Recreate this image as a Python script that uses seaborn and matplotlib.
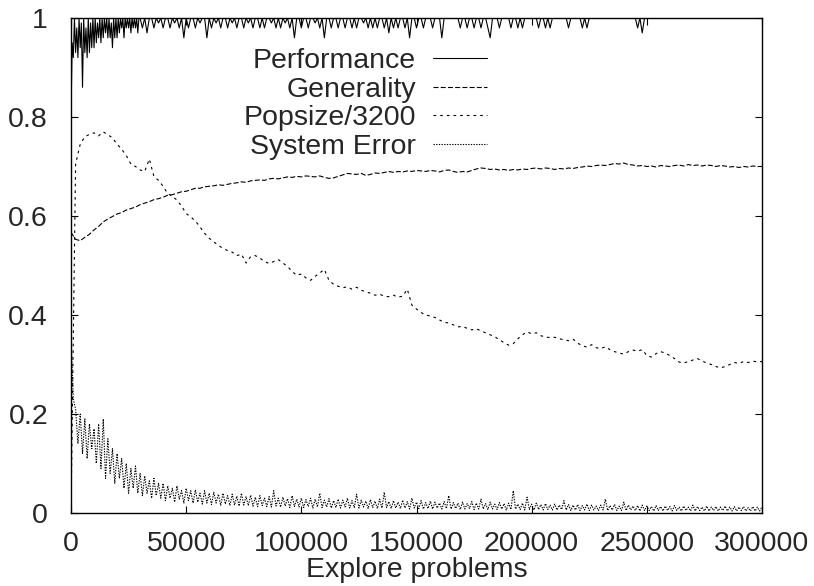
import numpy as np
import pandas as pd
import matplotlib
matplotlib.use("Agg")
import matplotlib.pyplot as plt
import seaborn as sns

# x grids (explore problems)
explore_fine = np.arange(0, 300001, 1000)
explore_coarse = np.arange(0, 300001, 2000)
explore_perf = np.concatenate([np.arange(0, 30000, 500),
                               np.arange(30000, 300001, 1000)])

# performance: every 500 problems up to 30000, then every 1000
performance = [
    0.80, 0.95, 0.92, 1.0, 0.93, 0.98, 0.92, 1.0, 0.94, 0.99,
    0.86, 1.0, 0.93, 0.98, 0.92, 1.0, 0.93, 0.99, 0.94, 1.0,
    0.94, 1.0, 0.95, 0.99, 0.96, 1.0, 0.95, 1.0, 0.96, 1.0,
    0.97, 1.0, 0.96, 1.0, 0.96, 0.99, 0.94, 1.0, 0.96, 1.0,
    0.96, 1.0, 0.97, 1.0, 0.98, 1.0, 0.96, 1.0, 0.98, 1.0,
    0.98, 1.0, 0.97, 1.0, 0.98, 1.0, 0.98, 1.0, 0.97, 1.0,
    1.0, 0.98, 1.0, 0.97, 1.0, 1.0, 0.98, 1.0, 0.99, 1.0,
    0.98, 1.0, 1.0, 0.98, 1.0, 0.99, 1.0, 0.98, 1.0, 0.96,
    1.0, 0.98, 1.0, 1.0, 0.98, 1.0, 0.99, 1.0, 1.0, 0.96,
    1.0, 0.98, 1.0, 0.99, 1.0, 0.98, 1.0, 1.0, 0.98, 1.0,
    0.99, 1.0, 0.98, 1.0, 1.0, 0.98, 1.0, 0.99, 1.0, 0.98,
    1.0, 1.0, 0.98, 1.0, 0.98, 1.0, 1.0, 0.99, 1.0, 0.98,
    1.0, 0.98, 1.0, 0.99, 1.0, 0.98, 1.0, 0.96, 1.0, 1.0,
    0.98, 1.0, 1.0, 0.98, 1.0, 1.0, 0.99, 1.0, 0.98, 1.0,
    0.96, 1.0, 1.0, 0.98, 1.0, 1.0, 0.98, 1.0, 1.0, 0.98,
    1.0, 1.0, 0.98, 1.0, 0.98, 1.0, 1.0, 0.99, 1.0, 0.98,
    1.0, 0.98, 1.0, 0.98, 1.0, 1.0, 0.98, 1.0, 0.97, 1.0,
    0.98, 1.0, 0.98, 1.0, 1.0, 0.98, 1.0, 0.96, 1.0, 1.0,
    0.98, 1.0, 1.0, 0.98, 1.0, 1.0, 1.0, 0.98, 1.0, 1.0,
    1.0, 0.96, 1.0, 1.0, 1.0, 1.0, 1.0, 1.0, 1.0, 0.98,
    1.0, 1.0, 0.98, 1.0, 1.0, 0.98, 1.0, 1.0, 0.98, 1.0,
    1.0, 0.98, 0.96, 1.0, 1.0, 1.0, 0.98, 1.0, 1.0, 1.0,
    1.0, 0.98, 1.0, 1.0, 0.98, 1.0, 0.98, 1.0, 1.0, 1.0,
    1.0, 1.0, 1.0, 0.98, 1.0, 1.0, 0.98, 1.0, 0.98, 1.0,
    1.0, 1.0, 1.0, 1.0, 1.0, 1.0, 0.98, 1.0, 1.0, 1.0,
    1.0, 1.0, 0.98, 1.0, 0.98, 1.0, 1.0, 1.0, 1.0, 1.0,
    1.0, 1.0, 1.0, 1.0, 1.0, 1.0, 1.0, 1.0, 1.0, 1.0,
    1.0, 1.0, 1.0, 1.0, 1.0, 1.0, 0.98, 1.0, 0.97, 1.0,
    1.0, 1.0, 1.0, 1.0, 1.0, 1.0, 1.0, 1.0, 1.0, 1.0,
    1.0, 1.0, 1.0, 1.0, 1.0, 1.0, 1.0, 1.0, 1.0, 1.0,
    1.0, 1.0, 1.0, 1.0, 1.0, 1.0, 1.0, 1.0, 1.0, 1.0,
    1.0, 1.0, 1.0, 1.0, 1.0, 1.0, 1.0, 1.0, 1.0, 1.0,
    1.0, 1.0, 1.0, 1.0, 1.0, 1.0, 1.0, 1.0, 1.0, 1.0,
    1.0,
]

# generality, one value every 2000 problems
generality = [
    0.567, 0.553, 0.550, 0.557, 0.563, 0.572, 0.579, 0.588, 0.594, 0.599,
    0.604, 0.607, 0.612, 0.615, 0.618, 0.623, 0.626, 0.629, 0.633, 0.635,
    0.638, 0.642, 0.643, 0.646, 0.649, 0.650, 0.653, 0.656, 0.656, 0.659,
    0.660, 0.661, 0.663, 0.662, 0.664, 0.666, 0.667, 0.669, 0.668, 0.671,
    0.672, 0.673, 0.672, 0.675, 0.676, 0.675, 0.677, 0.679, 0.678, 0.680,
    0.679, 0.681, 0.680, 0.679, 0.681, 0.678, 0.676, 0.677, 0.680, 0.683,
    0.686, 0.685, 0.684, 0.686, 0.682, 0.684, 0.687, 0.686, 0.688, 0.690,
    0.688, 0.690, 0.689, 0.691, 0.690, 0.692, 0.691, 0.690, 0.692, 0.691,
    0.689, 0.692, 0.693, 0.690, 0.688, 0.690, 0.689, 0.692, 0.695, 0.697,
    0.696, 0.694, 0.695, 0.693, 0.694, 0.692, 0.694, 0.693, 0.695, 0.694,
    0.696, 0.697, 0.695, 0.697, 0.696, 0.694, 0.696, 0.695, 0.697, 0.696,
    0.698, 0.699, 0.701, 0.700, 0.702, 0.703, 0.702, 0.704, 0.706, 0.705,
    0.707, 0.704, 0.703, 0.701, 0.702, 0.700, 0.701, 0.699, 0.702, 0.701,
    0.700, 0.702, 0.703, 0.701, 0.704, 0.702, 0.703, 0.701, 0.703, 0.702,
    0.700, 0.702, 0.701, 0.699, 0.700, 0.698, 0.700, 0.699, 0.701, 0.700,
    0.700,
]

# population size / 3200, one value every 2000 problems
popsize = [
    0.000, 0.705, 0.745, 0.760, 0.765, 0.768, 0.762, 0.770, 0.764, 0.758,
    0.745, 0.735, 0.722, 0.705, 0.700, 0.693, 0.690, 0.715, 0.680, 0.672,
    0.660, 0.645, 0.640, 0.632, 0.620, 0.605, 0.598, 0.590, 0.578, 0.565,
    0.555, 0.548, 0.540, 0.535, 0.530, 0.527, 0.520, 0.523, 0.505, 0.518,
    0.520, 0.515, 0.508, 0.504, 0.508, 0.512, 0.505, 0.498, 0.488, 0.480,
    0.483, 0.475, 0.470, 0.478, 0.485, 0.492, 0.470, 0.462, 0.458, 0.455,
    0.457, 0.452, 0.456, 0.450, 0.447, 0.444, 0.440, 0.442, 0.438, 0.437,
    0.440, 0.436, 0.438, 0.452, 0.420, 0.412, 0.405, 0.400, 0.398, 0.395,
    0.390, 0.385, 0.384, 0.380, 0.376, 0.377, 0.373, 0.370, 0.372, 0.368,
    0.364, 0.360, 0.356, 0.350, 0.344, 0.339, 0.342, 0.352, 0.360, 0.366,
    0.362, 0.364, 0.358, 0.356, 0.354, 0.355, 0.352, 0.350, 0.348, 0.351,
    0.343, 0.338, 0.335, 0.340, 0.334, 0.332, 0.336, 0.330, 0.326, 0.323,
    0.321, 0.326, 0.329, 0.327, 0.330, 0.318, 0.315, 0.322, 0.326, 0.323,
    0.318, 0.312, 0.305, 0.303, 0.306, 0.309, 0.312, 0.307, 0.303, 0.300,
    0.296, 0.293, 0.296, 0.300, 0.304, 0.302, 0.306, 0.304, 0.307, 0.305,
    0.306,
]

# system error, one value every 1000 problems
system_error = [
    0.36, 0.23, 0.21, 0.14, 0.20, 0.12, 0.19, 0.11, 0.18, 0.13,
    0.17, 0.10, 0.18, 0.09, 0.19, 0.07, 0.15, 0.08, 0.13, 0.06,
    0.12, 0.07, 0.11, 0.05, 0.10, 0.04, 0.09, 0.05, 0.095, 0.04,
    0.08, 0.035, 0.075, 0.04, 0.065, 0.03, 0.07, 0.035, 0.06, 0.03,
    0.06, 0.025, 0.055, 0.03, 0.05, 0.022, 0.055, 0.028, 0.045, 0.02,
    0.05, 0.025, 0.045, 0.02, 0.047, 0.022, 0.04, 0.018, 0.045, 0.02,
    0.04, 0.017, 0.042, 0.02, 0.038, 0.015, 0.04, 0.018, 0.035, 0.015,
    0.038, 0.016, 0.034, 0.014, 0.04, 0.016, 0.033, 0.015, 0.036, 0.014,
    0.032, 0.013, 0.035, 0.015, 0.03, 0.013, 0.033, 0.012, 0.045, 0.014,
    0.03, 0.012, 0.032, 0.014, 0.029, 0.011, 0.035, 0.013, 0.028, 0.012,
    0.03, 0.011, 0.027, 0.013, 0.03, 0.01, 0.028, 0.012, 0.04, 0.011,
    0.026, 0.012, 0.029, 0.01, 0.025, 0.011, 0.028, 0.01, 0.026, 0.012,
    0.03, 0.01, 0.025, 0.011, 0.038, 0.01, 0.026, 0.012, 0.024, 0.009,
    0.027, 0.011, 0.024, 0.009, 0.028, 0.01, 0.042, 0.011, 0.023, 0.009,
    0.025, 0.01, 0.022, 0.009, 0.026, 0.01, 0.023, 0.008, 0.03, 0.01,
    0.022, 0.009, 0.025, 0.008, 0.021, 0.009, 0.024, 0.008, 0.022, 0.01,
    0.02, 0.008, 0.023, 0.009, 0.035, 0.008, 0.021, 0.009, 0.02, 0.007,
    0.022, 0.008, 0.019, 0.009, 0.023, 0.007, 0.02, 0.008, 0.028, 0.008,
    0.019, 0.007, 0.022, 0.008, 0.018, 0.007, 0.021, 0.008, 0.019, 0.006,
    0.02, 0.007, 0.045, 0.008, 0.018, 0.007, 0.02, 0.006, 0.032, 0.007,
    0.018, 0.006, 0.02, 0.007, 0.017, 0.006, 0.019, 0.007, 0.016, 0.006,
    0.018, 0.006, 0.016, 0.007, 0.025, 0.006, 0.017, 0.005, 0.016, 0.006,
    0.017, 0.005, 0.015, 0.006, 0.018, 0.005, 0.016, 0.006, 0.014, 0.005,
    0.016, 0.006, 0.028, 0.005, 0.015, 0.006, 0.017, 0.005, 0.014, 0.005,
    0.022, 0.005, 0.016, 0.006, 0.014, 0.005, 0.015, 0.004, 0.016, 0.005,
    0.014, 0.005, 0.013, 0.004, 0.015, 0.005, 0.013, 0.004, 0.014, 0.005,
    0.013, 0.004, 0.015, 0.005, 0.012, 0.004, 0.014, 0.005, 0.012, 0.004,
    0.016, 0.004, 0.013, 0.005, 0.012, 0.004, 0.014, 0.004, 0.012, 0.005,
    0.013, 0.004, 0.012, 0.005, 0.014, 0.004, 0.012, 0.004, 0.013, 0.004,
    0.012, 0.005, 0.013, 0.004, 0.011, 0.004, 0.013, 0.004, 0.012, 0.004,
    0.012,
]

xticks = [0, 50000, 100000, 150000, 200000, 250000, 300000]
yticks = [0, 0.2, 0.4, 0.6, 0.8, 1.0]
ytick_labels = ["0", "0.2", "0.4", "0.6", "0.8", "1"]

perf_df = pd.DataFrame({"explore": explore_perf, "value": performance})
gen_df = pd.DataFrame({"explore": explore_coarse, "value": generality})
pop_df = pd.DataFrame({"explore": explore_coarse, "value": popsize})
err_df = pd.DataFrame({"explore": explore_fine, "value": system_error})

fs = 20.5
sns.set_style("ticks")
plt.rcParams["font.family"] = ["Liberation Sans", "DejaVu Sans"]
plt.rcParams["font.size"] = fs

fig = plt.figure(figsize=(8.14, 5.86), dpi=100)
ax = fig.add_axes([71 / 814, 73 / 586, 691 / 814, 495 / 586])

lw = 0.8
sns.lineplot(data=perf_df, x="explore", y="value", ax=ax, color="black",
             lw=lw, estimator=None, errorbar=None, label="Performance")
sns.lineplot(data=gen_df, x="explore", y="value", ax=ax, color="black",
             lw=lw, linestyle=(0, (4.5, 2.0)), estimator=None, errorbar=None,
             label="Generality")
sns.lineplot(data=pop_df, x="explore", y="value", ax=ax, color="black",
             lw=lw, linestyle=(0, (2.4, 3.6)), estimator=None, errorbar=None,
             label="Popsize/3200")
sns.lineplot(data=err_df, x="explore", y="value", ax=ax, color="black",
             lw=lw, linestyle=(0, (1.2, 1.2)), estimator=None, errorbar=None,
             label="System Error")

ax.set_xlim(0, 300000)
ax.set_ylim(0, 1)
ax.set_xticks(xticks)
ax.set_xticklabels([str(t) for t in xticks])
ax.set_yticks(yticks)
ax.set_yticklabels(ytick_labels)
ax.tick_params(axis="both", which="major", direction="in", length=5,
               width=0.8, color="black", labelsize=fs, top=True, right=True)
ax.tick_params(axis="y", pad=16.5)
ax.tick_params(axis="x", pad=13)
for s in ax.spines.values():
    s.set_linewidth(1.0)
    s.set_color("black")
    s.set_visible(True)

ax.set_xlabel("Explore problems", fontsize=fs, labelpad=0)
ax.set_ylabel("")

leg = ax.legend(loc="upper right", bbox_to_anchor=(0.602, 0.940),
                frameon=False, markerfirst=False, fontsize=fs,
                handlelength=1.9, handletextpad=0.6, labelspacing=0.1,
                borderpad=0, borderaxespad=0)

fig.savefig("out.png", dpi=100)
